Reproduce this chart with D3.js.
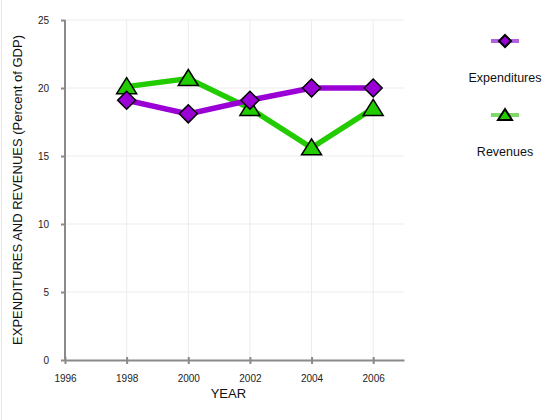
<!DOCTYPE html>
<html lang="en">
<head>
  <meta charset="UTF-8">
  <title>Expenditures and Revenues</title>
  <script src="https://d3js.org/d3.v7.min.js"></script>
  <style>
    body { margin: 0; background: #fff; }
    svg { display: block; font-family: "Liberation Sans", Arial, sans-serif; }
    .grid line { stroke: #ececec; stroke-width: 1px; }
    .axis path, .axis line { stroke: #8a8a8a; stroke-width: 2px; }
    .axis text { font-size: 10px; fill: #222; }
  </style>
</head>
<body>
<svg width="560" height="420"></svg>
<script>
const years = [1998, 2000, 2002, 2004, 2006];
const expenditures = [19.1, 18.1, 19.1, 20.0, 20.0];
const revenues = [20.1, 20.7, 18.5, 15.6, 18.5];
const xTicks = [1996, 1998, 2000, 2002, 2004, 2006];
const yTicks = [0, 5, 10, 15, 20, 25];

const svg = d3.select('svg');
const margin = { left: 65, top: 20, right: 156, bottom: 60 };
const width = 560, height = 420;

// faint frame on the left edge like the original
svg.append('line')
  .attr('x1', 1.5).attr('x2', 1.5).attr('y1', 0).attr('y2', height)
  .attr('stroke', '#e6e6e6');

const x = d3.scaleLinear().domain([1996, 2007]).range([margin.left, width - margin.right]);
const y = d3.scaleLinear().domain([0, 25]).range([height - margin.bottom, margin.top]);

// gridlines
const grid = svg.append('g').attr('class', 'grid');
grid.selectAll('.gx').data(xTicks.slice(1)).enter().append('line')
  .attr('x1', d => x(d)).attr('x2', d => x(d))
  .attr('y1', y(0)).attr('y2', y(25));
grid.selectAll('.gy').data(yTicks.slice(1)).enter().append('line')
  .attr('x1', x(1996)).attr('x2', x(2007))
  .attr('y1', d => y(d)).attr('y2', d => y(d));

// axes
svg.append('g').attr('class', 'axis')
  .attr('transform', `translate(0,${y(0)})`)
  .call(d3.axisBottom(x).tickValues(xTicks).tickFormat(d3.format('d')).tickSize(4).tickSizeOuter(0))
  .call(g => g.selectAll('line').attr('y1', -3))
  .call(g => g.selectAll('text').attr('dy', '1.5em'));

svg.append('g').attr('class', 'axis')
  .attr('transform', `translate(${x(1996)},0)`)
  .call(d3.axisLeft(y).tickValues(yTicks).tickSize(4).tickSizeOuter(0))
  .call(g => g.selectAll('text').attr('x', -16))
  .call(g => g.select('.domain').attr('d', `M0,${y(25)}V${y(0)}`));

// titles
svg.append('text')
  .attr('x', x(2001.3)).attr('y', 398)
  .attr('text-anchor', 'middle')
  .style('font-size', '13px').attr('fill', '#111')
  .text('YEAR');

svg.append('text')
  .attr('transform', `translate(22,${(y(0) + y(25)) / 2}) rotate(-90)`)
  .attr('text-anchor', 'middle')
  .style('font-size', '13px').attr('fill', '#111')
  .text('EXPENDITURES AND REVENUES (Percent of GDP)');

const expColor = '#9a00d6', revColor = '#22cc00';
const line = d3.line().x(d => x(d[0])).y(d => y(d[1]));

const expData = years.map((d, i) => [d, expenditures[i]]);
const revData = years.map((d, i) => [d, revenues[i]]);

svg.append('path').datum(revData).attr('d', line)
  .attr('fill', 'none').attr('stroke', revColor).attr('stroke-width', 5.5);
svg.append('path').datum(expData).attr('d', line)
  .attr('fill', 'none').attr('stroke', expColor).attr('stroke-width', 5.5);

const diamond = 'M0,-9L9,0L0,9L-9,0Z';
const triangle = 'M0,-9L10,7H-10Z';

svg.append('g').selectAll('path').data(revData).enter().append('path')
  .attr('d', triangle)
  .attr('transform', d => `translate(${x(d[0])},${y(d[1])})`)
  .attr('fill', revColor).attr('stroke', '#000').attr('stroke-width', 1.5);

svg.append('g').selectAll('path').data(expData).enter().append('path')
  .attr('d', diamond)
  .attr('transform', d => `translate(${x(d[0])},${y(d[1])})`)
  .attr('fill', expColor).attr('stroke', '#000').attr('stroke-width', 1.5);

// legend
const legend = [
  { name: 'Expenditures', color: '#b060e0', shape: 'M0,-6L6,0L0,6L-6,0Z', fill: expColor, y: 41 },
  { name: 'Revenues', color: '#7fd86a', shape: 'M0,-6L7,5H-7Z', fill: revColor, y: 115 }
];
const lg = svg.append('g').selectAll('g').data(legend).enter().append('g')
  .attr('transform', d => `translate(505,${d.y})`);
lg.append('line')
  .attr('x1', -14).attr('x2', 14)
  .attr('stroke', d => d.color).attr('stroke-width', 4);
lg.append('path')
  .attr('d', d => d.shape)
  .attr('fill', d => d.fill).attr('stroke', '#000').attr('stroke-width', 2);
lg.append('text')
  .attr('y', 41).attr('text-anchor', 'middle')
  .style('font-size', '12.5px').attr('fill', '#111')
  .text(d => d.name);
</script>
</body>
</html>
